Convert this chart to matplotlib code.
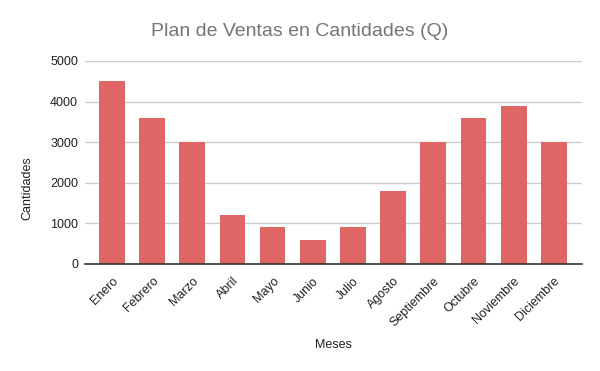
import matplotlib.pyplot as plt

meses = ["Enero", "Febrero", "Marzo", "Abril", "Mayo", "Junio", "Julio",
         "Agosto", "Septiembre", "Octubre", "Noviembre", "Diciembre"]
cantidades = [4500, 3600, 3000, 1200, 900, 600, 900, 1800, 3000, 3600, 3900, 3000]
y_ticks = [0, 1000, 2000, 3000, 4000, 5000]

plt.rcParams['font.family'] = ['Liberation Sans', 'DejaVu Sans']

fig = plt.figure(figsize=(6, 3.71), dpi=100)
ax = fig.add_axes([85 / 600, 1 - 264 / 371, 497 / 600, 203 / 371])

x = list(range(len(meses)))
ax.bar(x, cantidades, width=0.64, color='#e06666', zorder=3)

ax.set_xlim(-0.67, 11.7)
ax.set_ylim(0, 5000)
ax.set_yticks(y_ticks)
ax.set_yticklabels([str(v) for v in y_ticks], fontsize=9, color='#222222')
ax.set_xticks(x)
ax.set_xticklabels(meses, rotation=45, ha='right', rotation_mode='anchor',
                   fontsize=9, color='#222222')
ax.tick_params(axis='both', length=0, pad=5)
ax.tick_params(axis='x', pad=8)

ax.grid(axis='y', color='#cccccc', linewidth=1, zorder=0)
for side in ['top', 'right', 'left']:
    ax.spines[side].set_visible(False)
ax.spines['bottom'].set_color('#333333')
ax.spines['bottom'].set_linewidth(1.2)
ax.spines['bottom'].set_zorder(4)

fig.text(0.5, 1 - 32 / 371, "Plan de Ventas en Cantidades (Q)", ha='center',
         va='center', fontsize=14, color='#757575')
fig.text(333 / 600, 1 - 345 / 371, "Meses", ha='center', va='center',
         fontsize=9, color='#222222')
fig.text(27 / 600, 1 - 188 / 371, "Cantidades", ha='center', va='center',
         rotation=90, fontsize=9, color='#222222')

fig.savefig("out.png", dpi=100)
